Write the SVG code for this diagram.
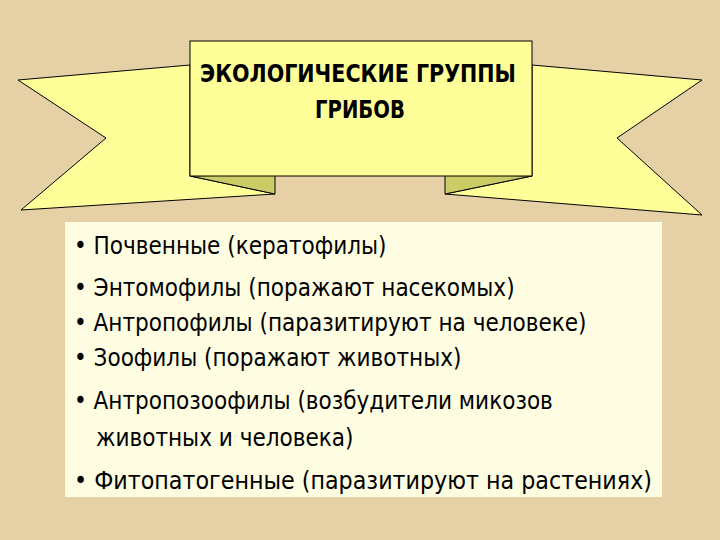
<svg xmlns="http://www.w3.org/2000/svg" width="720" height="540" viewBox="0 0 720 540">
<style>
.b{fill:#ffff99;stroke:#000;stroke-width:1}
.f{fill:#cccc66;stroke:#000;stroke-width:1}
.t{font-family:"DejaVu Sans Condensed","Liberation Sans Narrow","Liberation Sans",sans-serif;font-size:24px;fill:#000}
.h{font-family:"Liberation Sans Narrow","DejaVu Sans Condensed",sans-serif;font-weight:bold;font-size:25px;fill:#000}
</style>
<rect width="720" height="540" fill="#e6d1a7"/>
<g id="banner">
<polygon class="b" points="18,80 190,65 190,176 275,194 21,210 106,138"/>
<polygon class="b" points="702,80 532,65 532,176 445,194 702,215 617,138"/>
<polygon class="f" points="190,176 275,174 275,194"/>
<polygon class="f" points="532,176 445,174 445,194"/>
<rect class="b" x="190" y="41" width="342" height="135"/>
<text class="h" x="358" y="82" text-anchor="middle" textLength="316" lengthAdjust="spacingAndGlyphs">ЭКОЛОГИЧЕСКИЕ ГРУППЫ</text>
<text class="h" x="360" y="118" text-anchor="middle" textLength="90" lengthAdjust="spacingAndGlyphs">ГРИБОВ</text>
</g>
<g id="list">
<rect x="65" y="222" width="597" height="275" fill="#fefde2"/>
<text class="t" x="74" y="254">• Почвенные (кератофилы)</text>
<text class="t" x="74" y="296">• Энтомофилы (поражают насекомых)</text>
<text class="t" x="74" y="331">• Антропофилы (паразитируют на человеке)</text>
<text class="t" x="74" y="366">• Зоофилы (поражают животных)</text>
<text class="t" x="74" y="409">• Антропозоофилы (возбудители микозов</text>
<text class="t" x="96" y="446">животных и человека)</text>
<text class="t" x="74" y="489" textLength="578" lengthAdjust="spacingAndGlyphs">• Фитопатогенные (паразитируют на растениях)</text>
</g>
</svg>
